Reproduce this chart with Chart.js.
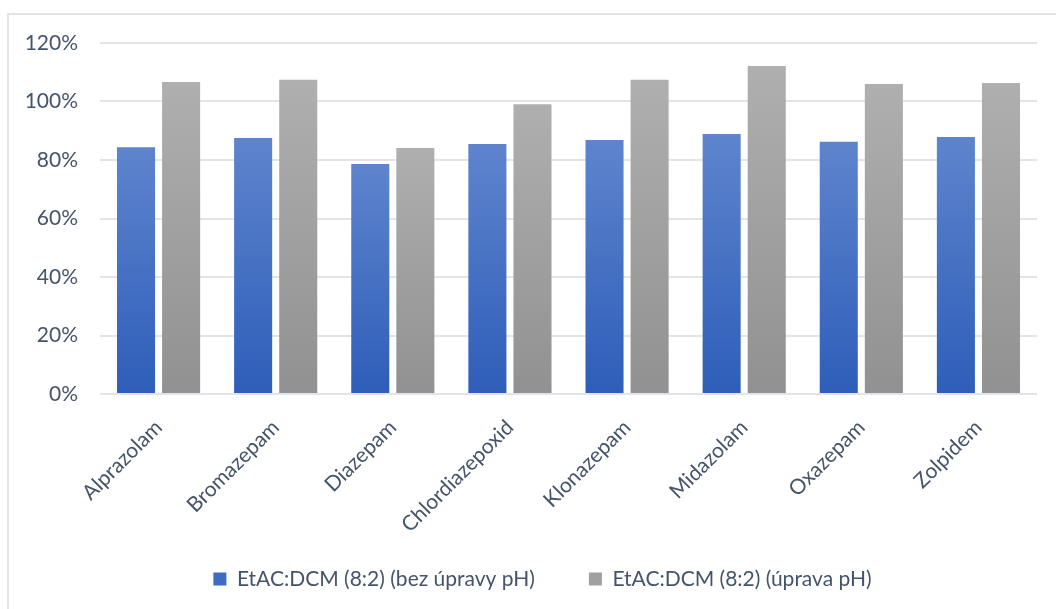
<!DOCTYPE html>
<html>
<head>
<meta charset="utf-8">
<script src="https://cdn.jsdelivr.net/npm/chart.js@4"></script>
<style>
  html, body { margin: 0; padding: 0; background: #fff; overflow: hidden; }
  #wrap { position: relative; width: 1056px; height: 609px; }
  #frame {
    position: absolute; left: 7px; top: 13px;
    width: 2000px; height: 2000px;
    border: 2px solid #e1e5ea;
  }
  #chart { position: absolute; left: 0; top: 0; }
</style>
</head>
<body>
<div id="wrap">
  <div id="frame"></div>
  <canvas id="chart" width="1056" height="609"></canvas>
</div>
<script>
// Chart data
const categories = ['Alprazolam', 'Bromazepam', 'Diazepam', 'Chlordiazepoxid', 'Klonazepam', 'Midazolam', 'Oxazepam', 'Zolpidem'];
const bezUpravyPh = [84.4, 87.5, 78.6, 85.5, 86.8, 88.9, 86.2, 87.9];
const upravaPh = [106.7, 107.4, 84.1, 99.1, 107.4, 112.1, 106.0, 106.3];
const yTicks = [0, 20, 40, 60, 80, 100, 120];

const textColor = '#44546a';
const gridColor = '#e1e5ea';
const fontFamily = 'Lato, "Open Sans", sans-serif';

// Per-bar vertical gradient (lighter at top, darker at bottom)
const barGradient = (top, bottom, solid) => (ctx) => {
    const chart = ctx.chart;
    const y = chart.scales.y;
    if (!y || ctx.dataIndex === undefined || !chart.chartArea) return solid;
    const value = ctx.dataset.data[ctx.dataIndex];
    const y0 = y.getPixelForValue(value);
    const y1 = y.getPixelForValue(0);
    if (!isFinite(y0) || !isFinite(y1)) return solid;
    const g = chart.ctx.createLinearGradient(0, y0, 0, y1);
    g.addColorStop(0, top);
    g.addColorStop(1, bottom);
    return g;
};

// Legend keeps its wide item spacing but takes little room; move it
// right so it is centred on the outer frame and pull its top up
const legendShift = {
    id: 'legendShift',
    afterLayout: (chart) => {
        const lg = chart.legend;
        lg.left += 12;
        lg.right += 12;
        lg.top -= 34.5;
    }
};

const ctx = document.getElementById('chart').getContext('2d');
new Chart(ctx, {
    type: 'bar',
    data: {
        labels: categories,
        datasets: [
            {
                label: 'EtAC:DCM (8:2) (bez úpravy pH)',
                data: bezUpravyPh,
                backgroundColor: barGradient('#5e84cd', '#2e5eb9', '#3f6cc3'),
                categoryPercentage: 0.77,
                barPercentage: 0.844
            },
            {
                label: 'EtAC:DCM (8:2) (úprava pH)',
                data: upravaPh,
                backgroundColor: barGradient('#afafaf', '#919191', '#a0a0a0'),
                categoryPercentage: 0.77,
                barPercentage: 0.844
            }
        ]
    },
    options: {
        responsive: false,
        animation: false,
        layout: {
            padding: { left: 24, right: 19, top: 43, bottom: 0 }
        },
        plugins: {
            tooltip: { enabled: false },
            legend: {
                position: 'bottom',
                maxHeight: 60,
                labels: {
                    color: textColor,
                    font: { family: fontFamily, size: 21 },
                    boxWidth: 13,
                    boxHeight: 13,
                    padding: 54,
                    generateLabels: (chart) => {
                        const fills = ['#3f6cc3', '#a0a0a0'];
                        return chart.data.datasets.map((ds, i) => ({
                            text: ds.label,
                            fillStyle: fills[i],
                            strokeStyle: fills[i],
                            lineWidth: 0,
                            fontColor: textColor,
                            datasetIndex: i
                        }));
                    }
                }
            }
        },
        scales: {
            x: {
                afterFit: (scale) => { scale.height = 155; },
                grid: { display: false },
                border: { display: false },
                ticks: {
                    color: textColor,
                    font: { family: fontFamily, size: 21 },
                    minRotation: 45,
                    maxRotation: 45,
                    padding: 13
                }
            },
            y: {
                min: 0,
                max: 120,
                afterFit: (scale) => { scale.width = 76; },
                afterBuildTicks: (scale) => {
                    scale.ticks = yTicks.map(v => ({ value: v }));
                },
                grid: {
                    color: gridColor,
                    lineWidth: 2,
                    drawTicks: false
                },
                border: { display: false },
                ticks: {
                    color: textColor,
                    font: { family: fontFamily, size: 21 },
                    padding: 22,
                    callback: (v) => v + '%'
                }
            }
        }
    },
    plugins: [legendShift]
});
</script>
</body>
</html>
